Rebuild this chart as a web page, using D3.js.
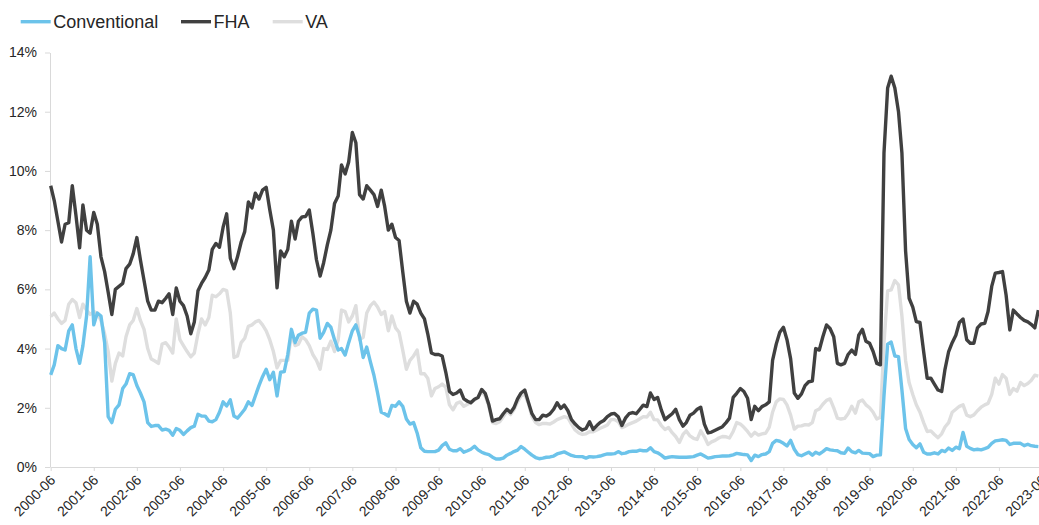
<!DOCTYPE html>
<html>
<head>
<meta charset="utf-8">
<title>Delinquency rates</title>
<style>
  body { margin: 0; background: #fff; overflow: hidden; }
  svg { display: block; font-family: "Liberation Sans", Arial, sans-serif; }
  .axis text { fill: #262626; font-size: 14px; }
  .axis path, .axis line { stroke: #d9d9d9; }
  .legend text { fill: #262626; font-size: 18px; }
</style>
</head>
<body>
<div id="viz"></div>
<script src="https://d3js.org/d3.v7.min.js"></script>
<script>
// first month of the series and the yearly tick labels
var startMonth = '2000-06';
var tickLabels = ['2000-06','2001-06','2002-06','2003-06','2004-06','2005-06','2006-06','2007-06',
                  '2008-06','2009-06','2010-06','2011-06','2012-06','2013-06','2014-06','2015-06',
                  '2016-06','2017-06','2018-06','2019-06','2020-06','2021-06','2022-06','2023-06'];
var yTicks = [0, 2, 4, 6, 8, 10, 12, 14];
var seriesNames = ['Conventional', 'FHA', 'VA'];

// monthly values (%), one row per year starting in June
var conventional = [
  3.11, 3.45, 4.1, 4.0, 3.95, 4.6, 4.8, 4.0, 3.5, 4.1, 5.1, 7.1,
  4.8, 5.2, 5.1, 4.2, 1.7, 1.5, 1.95, 2.1, 2.65, 2.8, 3.15, 3.12,
  2.75, 2.5, 2.2, 1.5, 1.37, 1.4, 1.4, 1.25, 1.28, 1.24, 1.07, 1.3,
  1.24, 1.1, 1.22, 1.33, 1.38, 1.78, 1.72, 1.72, 1.55, 1.53, 1.6, 1.85,
  2.2, 2.06, 2.27, 1.72, 1.65, 1.8, 1.95, 2.2, 2.08, 2.4, 2.75, 3.05,
  3.3, 2.95, 3.2, 2.4, 3.2, 3.22, 3.8, 4.65, 4.2, 4.45, 4.52, 4.55,
  5.2, 5.33, 5.3, 4.35, 4.55, 4.85, 4.72, 4.3, 3.95, 4.0, 3.78, 4.2,
  4.6, 4.8, 4.4, 3.7, 4.05, 3.55, 3.1, 2.5, 1.85, 1.8, 1.72, 2.08,
  2.05, 2.2, 2.05, 1.62, 1.45, 1.5, 1.15, 0.65, 0.53, 0.52, 0.52, 0.52,
  0.57, 0.72, 0.82, 0.6, 0.55, 0.55, 0.62, 0.5, 0.55, 0.6, 0.7, 0.58,
  0.5, 0.45, 0.42, 0.33, 0.27, 0.27, 0.3, 0.4, 0.46, 0.52, 0.57, 0.69,
  0.6, 0.5, 0.4, 0.32, 0.28, 0.3, 0.33, 0.34, 0.37, 0.44, 0.48, 0.51,
  0.45, 0.39, 0.36, 0.35, 0.35, 0.3, 0.35, 0.34, 0.35, 0.37, 0.41, 0.44,
  0.44, 0.45, 0.52, 0.45, 0.47, 0.52, 0.53, 0.53, 0.57, 0.55, 0.55, 0.65,
  0.52, 0.48, 0.4, 0.3, 0.33, 0.35, 0.34, 0.33, 0.33, 0.33, 0.34, 0.35,
  0.4, 0.44, 0.37, 0.3, 0.32, 0.35, 0.36, 0.37, 0.37, 0.38, 0.41, 0.46,
  0.44, 0.42, 0.41, 0.22, 0.4, 0.35, 0.42, 0.44, 0.52, 0.8, 0.9, 0.87,
  0.8, 0.71, 0.9, 0.6, 0.42, 0.38, 0.44, 0.5, 0.4, 0.5, 0.44, 0.52,
  0.62, 0.58, 0.56, 0.55, 0.48, 0.46, 0.64, 0.52, 0.48, 0.56, 0.47, 0.46,
  0.45, 0.35, 0.4, 0.41, 2.4, 4.15, 4.22, 3.75, 3.73, 2.6, 1.3, 0.93,
  0.76, 0.65, 0.78, 0.5, 0.44, 0.44, 0.48, 0.44, 0.56, 0.52, 0.64, 0.56,
  0.67, 0.62, 1.17, 0.7, 0.63, 0.58, 0.6, 0.58, 0.62, 0.66, 0.8, 0.88,
  0.9, 0.92, 0.9, 0.76, 0.8, 0.8, 0.8, 0.72, 0.77, 0.72, 0.7, 0.69
];

var fha = [
  9.5, 9.0, 8.3, 7.6, 8.2, 8.25, 9.5, 8.5, 7.4, 8.85, 8.0, 7.9,
  8.6, 8.2, 7.1, 6.6, 5.9, 5.15, 6.0, 6.1, 6.2, 6.7, 6.85, 7.2,
  7.75, 7.0, 6.3, 5.6, 5.3, 5.3, 5.6, 5.55, 5.7, 5.85, 5.15, 6.05,
  5.6, 5.45, 5.1, 4.5, 4.9, 5.95, 6.2, 6.4, 6.65, 7.35, 7.55, 7.42,
  8.1, 8.55, 7.05, 6.7, 7.1, 7.6, 7.95, 8.95, 8.75, 9.25, 9.05, 9.35,
  9.45, 8.7, 8.0, 6.05, 7.3, 7.1, 7.35, 8.3, 7.7, 8.3, 8.45, 8.46,
  8.68, 7.9, 7.0, 6.45, 6.9, 7.5, 8.0, 8.9, 9.15, 10.2, 9.9, 10.3,
  11.3, 10.95, 9.2, 9.05, 9.5, 9.35, 9.2, 8.8, 9.35, 8.8, 8.0, 8.2,
  7.75, 7.65, 6.6, 5.6, 5.2, 5.6, 5.5, 5.2, 5.0, 4.5, 3.85, 3.8,
  3.8, 3.75, 3.2, 2.55, 2.45, 2.5, 2.6, 2.3, 2.22, 2.17, 2.29, 2.35,
  2.62, 2.49, 2.1, 1.55, 1.6, 1.63, 1.8, 1.95, 1.84, 2.0, 2.3, 2.5,
  2.6, 2.2, 1.8, 1.6, 1.6, 1.75, 1.72, 1.8, 1.95, 2.17, 1.98, 2.09,
  1.9, 1.6, 1.45, 1.33, 1.25, 1.3, 1.53, 1.27, 1.4, 1.5, 1.57, 1.7,
  1.79, 1.81, 1.7, 1.4, 1.65, 1.8, 1.84, 1.8, 1.95, 2.09, 2.04, 2.5,
  2.28, 2.35, 1.93, 1.6, 1.7, 1.8, 1.95, 1.6, 1.38, 1.5, 1.75, 1.82,
  1.95, 2.02, 1.45, 1.15, 1.18, 1.24, 1.3, 1.36, 1.5, 1.65, 2.35, 2.49,
  2.65, 2.55, 2.32, 1.6, 2.05, 1.9, 2.04, 2.1, 2.2, 3.6, 4.15, 4.55,
  4.72, 4.3, 3.65, 2.5, 2.32, 2.47, 2.75, 2.88, 2.9, 4.0, 3.95, 4.4,
  4.8, 4.68, 4.4, 3.5, 3.45, 3.5, 3.8, 3.95, 3.8, 4.45, 4.65, 4.25,
  4.18, 3.9, 3.5, 3.45, 10.6, 12.8, 13.2, 12.8, 12.0, 10.6, 7.3, 5.7,
  5.4, 4.91, 4.88, 3.9, 3.0, 3.0, 2.8, 2.6, 2.55, 3.3, 3.9, 4.2,
  4.45, 4.88, 5.0, 4.3, 4.18, 4.18, 4.7, 4.83, 4.85, 5.25, 6.1, 6.55,
  6.57, 6.6, 5.8, 4.63, 5.3, 5.17, 5.05, 4.95, 4.9, 4.82, 4.7, 5.3
];

var va = [
  5.08, 5.2, 5.0, 4.85, 4.95, 5.5, 5.66, 5.55, 5.05, 5.5, 5.3, 5.15,
  5.25, 5.2, 4.95, 4.5, 3.9, 2.9, 3.5, 3.85, 3.75, 4.4, 4.8, 4.95,
  5.35, 4.95, 4.65, 4.0, 3.65, 3.58, 3.5, 4.15, 4.2, 4.05, 3.85, 5.0,
  4.3, 4.1, 3.9, 3.72, 3.85, 4.5, 5.0, 4.8, 5.05, 5.8, 5.75, 5.85,
  6.0, 5.96, 5.2, 3.7, 3.75, 4.2, 4.35, 4.75, 4.8, 4.9, 4.95, 4.8,
  4.6, 4.3, 3.9, 3.35, 3.6, 3.6, 3.6, 4.5, 4.1, 4.15, 4.4, 4.3,
  4.1, 3.8, 3.6, 3.3, 4.0, 3.97, 4.25, 3.9, 4.3, 5.3, 5.25, 4.9,
  5.1, 5.45, 4.3, 4.38, 5.2, 5.45, 5.57, 5.4, 5.15, 5.25, 4.6, 5.1,
  4.7, 4.55, 3.95, 3.3, 3.6, 3.75, 3.95, 3.15, 3.15, 3.0, 2.4, 2.65,
  2.71, 2.8, 2.7, 2.1, 1.93, 2.15, 2.2, 2.05, 2.12, 2.18, 2.26, 2.35,
  2.55, 2.4, 2.05, 1.5, 1.47, 1.53, 1.7, 1.88, 1.77, 1.93, 2.2, 2.4,
  2.47, 2.15, 1.7, 1.5, 1.43, 1.47, 1.47, 1.45, 1.52, 1.6, 1.65, 1.7,
  1.66, 1.45, 1.25, 1.15, 1.1, 1.12, 1.19, 1.19, 1.25, 1.31, 1.36, 1.42,
  1.6, 1.6, 1.53, 1.33, 1.38, 1.45, 1.5, 1.55, 1.63, 1.7, 1.69, 1.85,
  1.6, 1.59, 1.4, 1.27, 1.33, 1.16, 1.03, 0.83, 1.1, 1.22, 1.05, 0.97,
  0.93, 1.22, 1.02, 0.76, 0.85, 0.9, 0.98, 1.03, 1.02, 0.98, 1.2, 1.5,
  1.45, 1.34, 1.2, 1.04, 1.17, 1.08, 1.12, 1.14, 1.35, 1.85, 2.2, 2.3,
  2.28, 2.1, 1.75, 1.28, 1.38, 1.39, 1.43, 1.42, 1.5, 1.9, 1.96, 2.12,
  2.25, 2.3, 2.0, 1.65, 1.62, 1.64, 1.8, 2.05, 1.82, 2.2, 2.26, 2.1,
  2.0, 1.85, 1.62, 1.68, 4.2, 5.95, 5.98, 6.3, 6.15, 5.1, 3.6, 2.85,
  2.45, 2.1, 1.85, 1.5, 1.2, 1.22, 1.1, 0.99, 1.12, 1.35, 1.5, 1.85,
  1.95, 2.05, 2.1, 1.75, 1.7, 1.76, 1.9, 2.02, 2.1, 2.15, 2.45, 3.0,
  2.8, 3.12, 3.0, 2.45, 2.65, 2.56, 2.85, 2.75, 2.82, 2.92, 3.1, 3.07
];

var colors = { 'Conventional': '#6cc3ea', 'FHA': '#404040', 'VA': '#dedede' };

var width = 1039, height = 525;
var parseMonth = d3.utcParse('%Y-%m');
var months = d3.utcMonth.range(parseMonth(startMonth), d3.utcMonth.offset(parseMonth(startMonth), fha.length));

var x = d3.scaleUtc()
    .domain([parseMonth(tickLabels[0]), parseMonth(tickLabels[tickLabels.length - 1])])
    .range([50.7, 1042]);
var y = d3.scaleLinear().domain([0, 14]).range([467, 52.5]);

var svg = d3.select('#viz').append('svg')
    .attr('width', width)
    .attr('height', height);

// y axis
svg.append('g')
    .attr('class', 'axis')
    .attr('transform', 'translate(50,0)')
    .call(d3.axisLeft(y).tickValues(yTicks).tickSize(5).tickSizeOuter(0).tickPadding(8)
      .tickFormat(function(d) { return d + '%'; }));

// x axis
var xAxis = svg.append('g')
    .attr('class', 'axis')
    .attr('transform', 'translate(0,467)')
    .call(d3.axisBottom(x).tickValues(tickLabels.map(parseMonth)).tickSize(4).tickSizeOuter(0)
      .tickFormat(d3.utcFormat('%Y-%m')));
xAxis.selectAll('text')
    .attr('text-anchor', 'end')
    .attr('dy', null)
    .attr('y', 0)
    .attr('transform', 'translate(5,14) rotate(-45)');

// lines
var line = d3.line()
    .x(function(d, i) { return x(months[i]); })
    .y(function(d) { return y(d); });

var seriesData = { 'Conventional': conventional, 'FHA': fha, 'VA': va };
['VA', 'FHA', 'Conventional'].forEach(function(name) {
  svg.append('path')
      .datum(seriesData[name])
      .attr('fill', 'none')
      .attr('stroke', colors[name])
      .attr('stroke-width', 3.4)
      .attr('stroke-linejoin', 'round')
      .attr('d', line);
});

// legend
var legendX = [20.7, 181, 272.7];
var legend = svg.append('g').attr('class', 'legend');
seriesNames.forEach(function(name, i) {
  legend.append('line')
      .attr('x1', legendX[i]).attr('x2', legendX[i] + 30)
      .attr('y1', 21.7).attr('y2', 21.7)
      .attr('stroke', colors[name])
      .attr('stroke-width', 3.4);
  legend.append('text')
      .attr('x', legendX[i] + 32.5)
      .attr('y', 28.3)
      .text(name);
});
</script>
</body>
</html>
